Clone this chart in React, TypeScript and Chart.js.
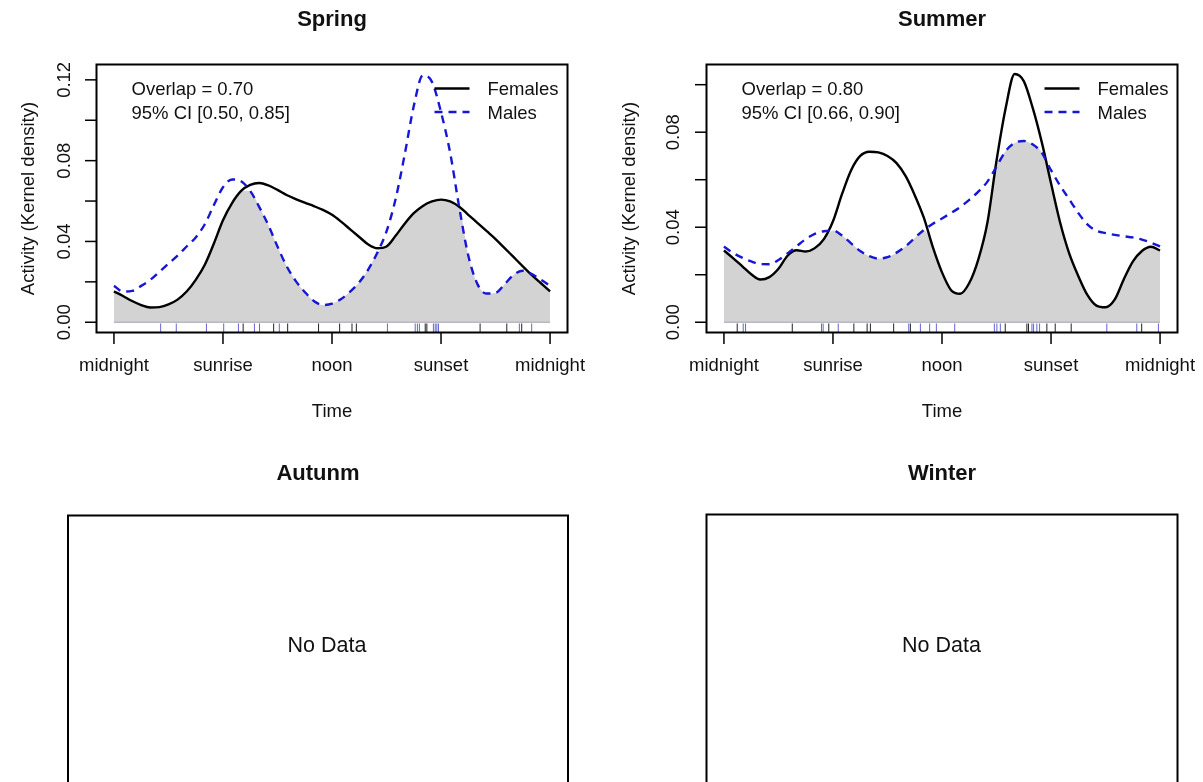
import React, { useEffect, useRef } from "react";
import { Chart, registerables } from "chart.js";

Chart.register(...registerables);

// ---------- data ----------
const timeGrid = [
  0, 0.5, 1, 1.5, 2, 2.5, 3, 3.5, 4, 4.5, 5, 5.5, 6, 6.5, 7, 7.5, 8, 8.5, 9, 9.5,
  10, 10.5, 11, 11.5, 12, 12.5, 13, 13.5, 14, 14.5, 15, 15.5, 16, 16.5, 17, 17.5,
  18, 18.5, 19, 19.5, 20, 20.5, 21, 21.5, 22, 22.5, 23, 23.5, 24,
];
const timeTickValues = [0, 6, 12, 18, 24];
const timeTickLabels = ["midnight", "sunrise", "noon", "sunset", "midnight"];
const legendLabels = ["Females", "Males"];

const springYTicks = [0, 0.02, 0.04, 0.06, 0.08, 0.1, 0.12];
const springYLabels = ["0.00", "", "0.04", "", "0.08", "", "0.12"];
const summerYTicks = [0, 0.02, 0.04, 0.06, 0.08, 0.1];
const summerYLabels = ["0.00", "", "0.04", "", "0.08", ""];

const springFemale = [
  0.0153, 0.013, 0.0105, 0.0085, 0.0073, 0.0075, 0.0088, 0.0112, 0.0152, 0.021,
  0.0285, 0.039, 0.0505, 0.059, 0.065, 0.068, 0.0689, 0.0677, 0.0655, 0.063,
  0.061, 0.0592, 0.0575, 0.0556, 0.0532, 0.0498, 0.046, 0.0422, 0.0385, 0.0366,
  0.0375, 0.0428, 0.0488, 0.054, 0.0576, 0.0598, 0.0607, 0.0598, 0.0572, 0.0532,
  0.0492, 0.0452, 0.0412, 0.0367, 0.0322, 0.0277, 0.0233, 0.0193, 0.0153,
];
const springMale = [
  0.018, 0.0152, 0.0155, 0.018, 0.021, 0.025, 0.029, 0.033, 0.0375, 0.042,
  0.0485, 0.058, 0.0668, 0.0707, 0.0698, 0.065, 0.057, 0.048, 0.0375, 0.0278,
  0.0205, 0.015, 0.0105, 0.0085, 0.0092, 0.0115, 0.0152, 0.0198, 0.0262, 0.0345,
  0.045, 0.061, 0.083, 0.107, 0.1222, 0.119, 0.104, 0.084, 0.057, 0.033,
  0.019, 0.0142, 0.0145, 0.0188, 0.0235, 0.0255, 0.0238, 0.021, 0.018,
];
const summerFemale = [
  0.0302, 0.027, 0.0236, 0.0202, 0.018, 0.019, 0.0225, 0.028, 0.0303, 0.0298,
  0.0312, 0.035, 0.0425, 0.054, 0.064, 0.07, 0.0718, 0.0715, 0.07, 0.067,
  0.0615, 0.0535, 0.044, 0.0315, 0.021, 0.0135, 0.012, 0.0165, 0.0265, 0.042,
  0.068, 0.09, 0.1045, 0.1015, 0.09, 0.0755, 0.0585, 0.042, 0.029, 0.0195,
  0.0115, 0.007, 0.0063, 0.0095, 0.018, 0.0255, 0.03, 0.0318, 0.0302,
];
const summerMale = [
  0.0319, 0.0292, 0.0272, 0.0256, 0.0245, 0.0244, 0.0262, 0.029, 0.032, 0.035,
  0.0372, 0.0383, 0.0386, 0.0365, 0.0332, 0.03, 0.0278, 0.0268, 0.0274, 0.0293,
  0.032, 0.0355, 0.0388, 0.0415, 0.0437, 0.046, 0.0485, 0.0515, 0.055, 0.0592,
  0.0655, 0.072, 0.0755, 0.0763, 0.0748, 0.0712, 0.064, 0.0575, 0.0518, 0.046,
  0.0412, 0.0385, 0.0375, 0.0368, 0.0362, 0.0357, 0.0348, 0.0335, 0.0319,
];

const springFemaleRug = [7.11, 8.79, 9.56, 11.26, 12.42, 13.1, 13.34, 17.13, 17.22, 20.15, 21.62, 22.44];
const springMaleRug = [2.57, 3.43, 5.09, 6.04, 6.85, 7.73, 8.01, 9.1, 15.05, 16.58, 16.7, 16.81, 17.58, 17.68, 17.77, 17.86, 22.31, 22.99];
const summerFemaleRug = [0.73, 3.76, 5.77, 7.15, 7.88, 8.06, 9.34, 10.26, 15.48, 16.67, 16.76, 17.77, 18.23, 19.11, 22.99];
const summerMaleRug = [1.06, 1.19, 5.37, 5.46, 6.29, 10.17, 10.81, 11.32, 11.69, 12.7, 14.88, 15.02, 15.21, 16.95, 17.04, 17.22, 17.37, 21.07, 22.72, 23.91];

// ---------- styling ----------
const FONT = '"Liberation Sans", Arial, Helvetica, sans-serif';
const TEXT = "#111111";
const BLUE = "#1616d4";
const FILL = "#d3d3d3";

type Box = { l: number; t: number; r: number; b: number };
type PanelCfg = {
  key: string;
  title: string;
  titleBaseline: number;
  canvas: { x: number; y: number; w: number; h: number };
  box: Box;
  noData?: boolean;
  noDataX?: number;
  yMin?: number;
  yMax?: number;
  yTicks?: number[];
  yLabels?: string[];
  yTickBaseX?: number;
  yTitleBaseX?: number;
  female?: number[];
  male?: number[];
  femaleRug?: number[];
  maleRug?: number[];
  overlapText?: string;
  ciText?: string;
};

const panels: PanelCfg[] = [
  {
    key: "spring",
    title: "Spring",
    titleBaseline: 26,
    canvas: { x: 0, y: 0, w: 601, h: 430 },
    box: { l: 96.5, t: 64.5, r: 567.5, b: 332.5 },
    yMin: -0.00508,
    yMax: 0.1276,
    yTicks: springYTicks,
    yLabels: springYLabels,
    yTickBaseX: 69.5,
    yTitleBaseX: 34,
    female: springFemale,
    male: springMale,
    femaleRug: springFemaleRug,
    maleRug: springMaleRug,
    overlapText: "Overlap = 0.70",
    ciText: "95% CI [0.50, 0.85]",
  },
  {
    key: "summer",
    title: "Summer",
    titleBaseline: 26,
    canvas: { x: 601, y: 0, w: 602, h: 430 },
    box: { l: 706.5, t: 64.5, r: 1177.5, b: 332.5 },
    yMin: -0.00432,
    yMax: 0.1085,
    yTicks: summerYTicks,
    yLabels: summerYLabels,
    yTickBaseX: 679,
    yTitleBaseX: 635,
    female: summerFemale,
    male: summerMale,
    femaleRug: summerFemaleRug,
    maleRug: summerMaleRug,
    overlapText: "Overlap = 0.80",
    ciText: "95% CI [0.66, 0.90]",
  },
  {
    key: "autumn",
    title: "Autunm",
    titleBaseline: 480,
    canvas: { x: 0, y: 430, w: 601, h: 352 },
    box: { l: 68, t: 515.5, r: 568, b: 900 },
    noData: true,
    noDataX: 327,
  },
  {
    key: "winter",
    title: "Winter",
    titleBaseline: 479.5,
    canvas: { x: 601, y: 430, w: 602, h: 352 },
    box: { l: 706.5, t: 514.5, r: 1177.5, b: 900 },
    noData: true,
    noDataX: 941.5,
  },
];

function makeDecor(cfg: PanelCfg) {
  return {
    id: "decor_" + cfg.key,
    afterDraw(chart: any) {
      const ctx: CanvasRenderingContext2D = chart.ctx;
      const ox = cfg.canvas.x;
      const oy = cfg.canvas.y;
      const X = (p: number) => p - ox;
      const Y = (p: number) => p - oy;
      const line = (x1: number, y1: number, x2: number, y2: number) => {
        ctx.beginPath();
        ctx.moveTo(x1, y1);
        ctx.lineTo(x2, y2);
        ctx.stroke();
      };
      ctx.save();
      ctx.fillStyle = TEXT;
      ctx.strokeStyle = "#000";
      ctx.textBaseline = "alphabetic";
      ctx.textAlign = "center";
      ctx.font = `bold 22px ${FONT}`;
      ctx.fillText(cfg.title, X((cfg.box.l + cfg.box.r) / 2), Y(cfg.titleBaseline));

      if (cfg.noData) {
        ctx.lineWidth = 2;
        ctx.strokeRect(X(cfg.box.l), Y(cfg.box.t), cfg.box.r - cfg.box.l, cfg.box.b - cfg.box.t);
        ctx.font = `21.5px ${FONT}`;
        ctx.fillText("No Data", X(cfg.noDataX as number), Y(651.5));
        ctx.restore();
        return;
      }

      const { left, right, top, bottom } = chart.chartArea;
      const xs = chart.scales.x;
      const ys = chart.scales.y;

      ctx.lineWidth = 2;
      ctx.strokeRect(left, top, right - left, bottom - top);

      ctx.lineWidth = 1.5;
      ctx.font = `18.5px ${FONT}`;
      timeTickValues.forEach((v, i) => {
        const px = xs.getPixelForValue(v);
        line(px, bottom, px, bottom + 11.5);
        ctx.fillText(timeTickLabels[i], px, Y(371));
      });
      ctx.fillText("Time", (left + right) / 2, Y(416.5));

      (cfg.yTicks || []).forEach((v, i) => {
        const py = ys.getPixelForValue(v);
        line(left - 11.5, py, left, py);
        const lab = (cfg.yLabels || [])[i];
        if (lab) {
          ctx.save();
          ctx.translate(X(cfg.yTickBaseX as number), py);
          ctx.rotate(-Math.PI / 2);
          ctx.textAlign = "center";
          ctx.fillText(lab, 0, 0);
          ctx.restore();
        }
      });

      ctx.save();
      ctx.translate(X(cfg.yTitleBaseX as number), (top + bottom) / 2);
      ctx.rotate(-Math.PI / 2);
      ctx.textAlign = "center";
      ctx.fillText("Activity (Kernel density)", 0, 0);
      ctx.restore();

      ctx.textAlign = "left";
      ctx.fillText(cfg.overlapText as string, left + 35, Y(95));
      ctx.fillText(cfg.ciText as string, left + 35, Y(118.5));

      const ts = right - 80;
      ctx.fillText(legendLabels[0], ts, Y(95));
      ctx.fillText(legendLabels[1], ts, Y(118.5));
      ctx.lineWidth = 2.4;
      ctx.strokeStyle = "#000";
      line(ts - 53, Y(88.5), ts - 18, Y(88.5));
      ctx.strokeStyle = BLUE;
      ctx.setLineDash([8, 6]);
      line(ts - 53, Y(112), ts - 18, Y(112));
      ctx.setLineDash([]);
      ctx.restore();
    },
  };
}

function Panel({ cfg }: { cfg: PanelCfg }) {
  const ref = useRef<HTMLCanvasElement | null>(null);
  useEffect(() => {
    const canvas = ref.current;
    if (!canvas) return;
    const { x: cx, y: cy, w, h } = cfg.canvas;
    let datasets: any[] = [];
    let padding: any = 0;
    if (!cfg.noData) {
      const female = cfg.female as number[];
      const male = cfg.male as number[];
      const pts = (ys: number[]) => timeGrid.map((t, i) => ({ x: t, y: ys[i] }));
      const overlap = female.map((v, i) => Math.min(v, male[i]));
      const rugY = (cfg.yMin as number) * 0.56;
      datasets = [
        {
          label: "Males",
          data: pts(male),
          borderColor: BLUE,
          borderWidth: 2.4,
          borderDash: [8, 6],
          pointRadius: 0,
          fill: false,
          cubicInterpolationMode: "monotone",
          order: 0,
        },
        {
          label: "Females",
          data: pts(female),
          borderColor: "#000",
          borderWidth: 2.4,
          pointRadius: 0,
          fill: false,
          cubicInterpolationMode: "monotone",
          order: 1,
        },
        {
          label: "female rug",
          data: (cfg.femaleRug as number[]).map((t) => ({ x: t, y: rugY })),
          showLine: false,
          pointStyle: "line",
          pointRotation: 90,
          pointRadius: 4.5,
          pointBorderColor: "#222",
          pointBorderWidth: 1,
          borderColor: "#222",
          order: 2,
        },
        {
          label: "male rug",
          data: (cfg.maleRug as number[]).map((t) => ({ x: t, y: rugY })),
          showLine: false,
          pointStyle: "line",
          pointRotation: 90,
          pointRadius: 4.5,
          pointBorderColor: "rgba(50,50,190,0.75)",
          pointBorderWidth: 1,
          borderColor: "rgba(50,50,190,0.75)",
          order: 2,
        },
        {
          label: "baseline",
          data: [
            { x: timeGrid[0], y: 0 },
            { x: timeGrid[timeGrid.length - 1], y: 0 },
          ],
          borderColor: "#a4a4b4",
          borderWidth: 1,
          pointRadius: 0,
          fill: false,
          order: 3,
        },
        {
          label: "overlap",
          data: pts(overlap),
          borderColor: "rgba(0,0,0,0)",
          borderWidth: 1,
          backgroundColor: FILL,
          fill: "origin",
          pointRadius: 0,
          cubicInterpolationMode: "monotone",
          order: 4,
        },
      ];
      padding = {
        left: cfg.box.l - cx,
        top: cfg.box.t - cy,
        right: cx + w - cfg.box.r,
        bottom: cy + h - cfg.box.b,
      };
    }
    const chart = new Chart(canvas, {
      type: "line",
      data: { datasets },
      options: {
        responsive: false,
        maintainAspectRatio: false,
        devicePixelRatio: 1,
        animation: false,
        events: [],
        layout: { padding },
        scales: {
          x: { type: "linear", min: -0.96, max: 24.96, display: false },
          y: { type: "linear", min: cfg.yMin ?? 0, max: cfg.yMax ?? 1, display: false },
        },
        plugins: {
          legend: { display: false },
          tooltip: { enabled: false },
          title: { display: false },
        },
      } as any,
      plugins: [makeDecor(cfg)],
    });
    return () => chart.destroy();
  }, [cfg]);
  return (
    <canvas
      ref={ref}
      width={cfg.canvas.w}
      height={cfg.canvas.h}
      style={{
        position: "absolute",
        left: cfg.canvas.x,
        top: cfg.canvas.y,
        width: cfg.canvas.w,
        height: cfg.canvas.h,
      }}
    />
  );
}

export default function App() {
  return (
    <div
      style={{
        position: "absolute",
        left: 0,
        top: 0,
        width: 1203,
        height: 782,
        overflow: "hidden",
        background: "#ffffff",
      }}
    >
      {panels.map((p) => (
        <Panel key={p.key} cfg={p} />
      ))}
    </div>
  );
}
